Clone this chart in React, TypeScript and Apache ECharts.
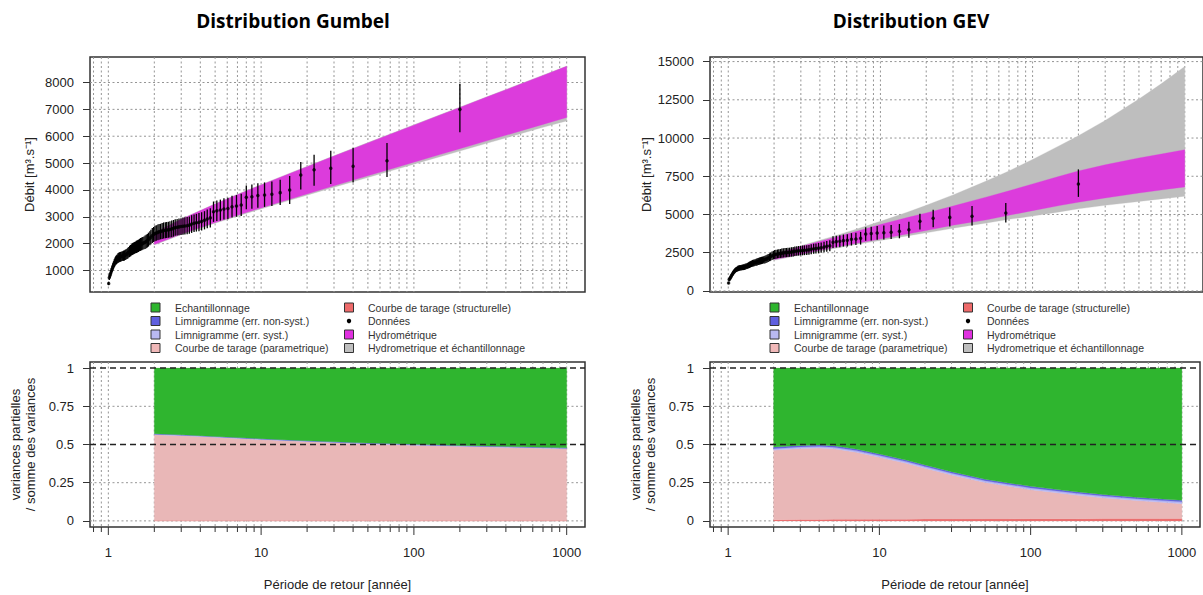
import React, { useEffect, useRef } from "react";
import * as echarts from "echarts";

// ---------- DATA ----------
// empirical return periods of the observed annual maxima [years]
const RETURN_PERIODS = [
  200, 66.67, 40, 28.57, 22.22, 18.18, 15.38, 13.33, 11.76, 10.53,
  9.52, 8.7, 8, 7.41, 6.9, 6.45, 6.06, 5.71, 5.41, 5.13,
  4.88, 4.65, 4.44, 4.26, 4.08, 3.92, 3.77, 3.64, 3.51, 3.39,
  3.28, 3.17, 3.08, 2.99, 2.9, 2.82, 2.74, 2.67, 2.6, 2.53,
  2.47, 2.41, 2.36, 2.3, 2.25, 2.2, 2.15, 2.11, 2.06, 2.02,
  1.98, 1.94, 1.9, 1.87, 1.83, 1.8, 1.77, 1.74, 1.71, 1.68,
  1.653, 1.626, 1.6, 1.575, 1.55, 1.527, 1.504, 1.481, 1.46, 1.439,
  1.418, 1.399, 1.379, 1.361, 1.342, 1.325, 1.307, 1.29, 1.274, 1.258,
  1.242, 1.227, 1.212, 1.198, 1.183, 1.17, 1.156, 1.143, 1.13, 1.117,
  1.105, 1.093, 1.081, 1.07, 1.058, 1.047, 1.036, 1.026, 1.015, 1.005,
];
// observed discharge [m3/s]
const DEBIT = [
  7000, 5090, 4880, 4810, 4750, 4560, 4000, 3900, 3840, 3810,
  3790, 3750, 3725, 3440, 3400, 3375, 3310, 3290, 3250, 3225,
  3190, 2960, 2920, 2870, 2830, 2800, 2780, 2760, 2730, 2690,
  2670, 2660, 2650, 2635, 2625, 2610, 2600, 2570, 2550, 2530,
  2520, 2510, 2500, 2490, 2470, 2450, 2440, 2420, 2400, 2380,
  2340, 2300, 2250, 2200, 2150, 2110, 2080, 2050, 2030, 2010,
  1990, 1970, 1950, 1920, 1900, 1880, 1860, 1840, 1820, 1800,
  1770, 1740, 1710, 1680, 1650, 1620, 1600, 1580, 1560, 1550,
  1540, 1530, 1520, 1510, 1500, 1480, 1460, 1430, 1400, 1370,
  1320, 1270, 1200, 1130, 1060, 980, 900, 820, 740, 520,
];
const DEBIT_LOW = [
  6150, 4480, 4280, 4220, 4160, 4020, 3480, 3440, 3400, 3370,
  3340, 3300, 3280, 3030, 3000, 2970, 2910, 2900, 2860, 2840,
  2810, 2600, 2570, 2530, 2490, 2460, 2450, 2430, 2400, 2370,
  2350, 2340, 2330, 2320, 2310, 2300, 2290, 2260, 2240, 2230,
  2220, 2210, 2200, 2190, 2170, 2160, 2150, 2130, 2110, 2090,
  2060, 2020, 1980, 1940, 1890, 1860, 1830, 1800, 1790, 1770,
  1750, 1730, 1720, 1690, 1670, 1650, 1640, 1620, 1600, 1580,
  1560, 1530, 1500, 1480, 1450, 1430, 1410, 1390, 1370, 1360,
  1360, 1350, 1340, 1330, 1320, 1300, 1280, 1260, 1230, 1210,
  1160, 1120, 1060, 990, 930, 860, 790, 720, 650, 460,
];
const DEBIT_HIGH = [
  7950, 5750, 5560, 5460, 5310, 5040, 4520, 4380, 4310, 4280,
  4250, 4200, 4170, 3860, 3810, 3780, 3710, 3690, 3640, 3610,
  3570, 3320, 3270, 3210, 3170, 3140, 3110, 3090, 3060, 3010,
  2990, 2980, 2970, 2950, 2940, 2920, 2910, 2880, 2860, 2830,
  2820, 2810, 2800, 2790, 2770, 2740, 2730, 2710, 2690, 2670,
  2620, 2580, 2520, 2460, 2410, 2360, 2330, 2300, 2270, 2250,
  2230, 2210, 2180, 2150, 2130, 2110, 2080, 2060, 2040, 2020,
  1980, 1950, 1920, 1880, 1850, 1810, 1790, 1770, 1750, 1740,
  1720, 1710, 1700, 1690, 1680, 1660, 1640, 1600, 1570, 1530,
  1480, 1420, 1340, 1270, 1190, 1100, 1010, 920, 830, 580,
];

// quantile uncertainty bands
const BAND_T = [2, 3, 5, 7, 10, 15, 20, 30, 50, 70, 100, 150, 200, 300, 500, 700, 1000];
const GUMBEL_HYDRO_LOW = [1970, 2358, 2789, 3057, 3332, 3638, 3852, 4152, 4526, 4771, 5031, 5325, 5534, 5828, 6197, 6441, 6699];
const GUMBEL_HYDRO_HIGH = [2400, 2908, 3474, 3825, 4186, 4587, 4868, 5261, 5752, 6073, 6413, 6800, 7073, 7458, 7943, 8263, 8601];
const GUMBEL_TOTAL_LOW = [1950, 2335, 2760, 3025, 3295, 3595, 3805, 4100, 4465, 4705, 4960, 5245, 5450, 5735, 6095, 6330, 6570];
const GUMBEL_TOTAL_HIGH = [2410, 2918, 3484, 3835, 4196, 4597, 4878, 5271, 5762, 6083, 6423, 6810, 7083, 7468, 7953, 8273, 8611];
const GEV_HYDRO_LOW = [2050, 2400, 2850, 3120, 3400, 3720, 3950, 4300, 4650, 4950, 5250, 5580, 5800, 6080, 6400, 6600, 6800];
const GEV_HYDRO_HIGH = [2400, 2900, 3500, 3900, 4350, 4800, 5100, 5550, 6150, 6550, 7000, 7500, 7850, 8250, 8700, 8950, 9240];
const GEV_TOTAL_LOW = [2000, 2350, 2780, 3050, 3300, 3600, 3800, 4100, 4450, 4680, 4900, 5170, 5370, 5600, 5850, 6020, 6200];
const GEV_TOTAL_HIGH = [2450, 2950, 3600, 4050, 4550, 5150, 5600, 6280, 7200, 7850, 8600, 9500, 10150, 11150, 12550, 13550, 14680];

// partial variances / sum of variances
const VAR_T = [2, 3, 4, 5, 7, 10, 15, 20, 30, 50, 70, 100, 200, 300, 500, 700, 1000];
const GUMBEL_STRUCT = [0.002, 0.002, 0.002, 0.002, 0.002, 0.002, 0.002, 0.002, 0.002, 0.002, 0.002, 0.002, 0.002, 0.002, 0.002, 0.002, 0.002];
const GUMBEL_PARAM = [0.562, 0.556, 0.55, 0.545, 0.538, 0.53, 0.522, 0.517, 0.51, 0.502, 0.498, 0.493, 0.486, 0.482, 0.477, 0.474, 0.47];
const GUMBEL_SYST = [0.003, 0.003, 0.003, 0.003, 0.003, 0.003, 0.003, 0.003, 0.003, 0.003, 0.003, 0.003, 0.003, 0.003, 0.003, 0.003, 0.003];
const GUMBEL_NONSYST = [0.003, 0.003, 0.003, 0.003, 0.003, 0.003, 0.003, 0.003, 0.003, 0.003, 0.003, 0.003, 0.003, 0.003, 0.003, 0.003, 0.003];
const GUMBEL_ECH = [0.43, 0.436, 0.442, 0.447, 0.454, 0.462, 0.47, 0.475, 0.482, 0.49, 0.494, 0.499, 0.506, 0.51, 0.515, 0.518, 0.522];
const GEV_STRUCT = [0.008, 0.009, 0.009, 0.01, 0.01, 0.011, 0.011, 0.012, 0.012, 0.013, 0.013, 0.014, 0.014, 0.015, 0.015, 0.015, 0.016];
const GEV_PARAM = [0.455, 0.465, 0.468, 0.462, 0.44, 0.406, 0.366, 0.333, 0.289, 0.239, 0.216, 0.19, 0.155, 0.136, 0.118, 0.108, 0.097];
const GEV_SYST = [0.01, 0.01, 0.01, 0.01, 0.01, 0.011, 0.011, 0.011, 0.011, 0.011, 0.011, 0.012, 0.012, 0.012, 0.012, 0.012, 0.012];
const GEV_NONSYST = [0.01, 0.01, 0.01, 0.01, 0.01, 0.01, 0.01, 0.01, 0.01, 0.01, 0.01, 0.01, 0.01, 0.01, 0.01, 0.01, 0.01];
const GEV_ECH = [0.517, 0.506, 0.503, 0.508, 0.53, 0.562, 0.602, 0.634, 0.678, 0.727, 0.75, 0.774, 0.809, 0.827, 0.845, 0.855, 0.865];

// axes
const X_GRID = [0.8, 0.9, 1, 2, 3, 4, 5, 6, 7, 8, 9, 10, 20, 30, 40, 50, 60, 70, 80, 90, 100, 200, 300, 400, 500, 600, 700, 800, 900, 1000];
const X_MAJOR = [1, 10, 100, 1000];
const Y_TICKS_GUMBEL = [1000, 2000, 3000, 4000, 5000, 6000, 7000, 8000];
const Y_TICKS_GEV = [0, 2500, 5000, 7500, 10000, 12500, 15000];
const Y_TICKS_VAR = [0, 0.25, 0.5, 0.75, 1];
const Y_DOTTED_VAR = [0, 0.25, 0.75];
const Y_DASHED_VAR = [0.5, 1];

const LEGEND_LEFT = ["Echantillonnage", "Limnigramme (err. non-syst.)", "Limnigramme (err. syst.)", "Courbe de tarage (parametrique)"];
const LEGEND_RIGHT = ["Courbe de tarage (structurelle)", "Données", "Hydrométrique", "Hydrometrique et échantillonnage"];

// ---------- STYLE ----------
const FONT = '"Liberation Sans", Arial, sans-serif';
const TXT = "#222";
const C_ECH = "#2fb52f";
const C_NONSYST = "#6464e1";
const C_SYST = "#b6b6f1";
const C_PARAM = "#e9b7b7";
const C_STRUCT = "#eb6e6e";
const C_HYDRO = "#dc3cdc";
const C_TOTAL = "#bebebe";
const LEGEND_LEFT_COLORS = ["#2db52d", "#5f5fdf", "#b9b9f2", "#f0b8b8"];
const LEGEND_RIGHT_COLORS = ["#ee6a6a", null, "#e030e0", "#bebebe"];

const X_MIN = 0.7586;
const X_MAX = 1318;
const GRIDS = [
  { left: 90, top: 57, width: 495, height: 235 },
  { left: 710, top: 57, width: 493, height: 235 },
  { left: 90, top: 362, width: 495, height: 165 },
  { left: 710, top: 362, width: 493, height: 165 },
];
const Y_RANGE = [
  [200, 8950],
  [-70, 15300],
  [-0.04, 1.04],
  [-0.04, 1.04],
];

function vGrid(gi: number, withTicks: boolean) {
  const [ymin, ymax] = Y_RANGE[gi];
  return {
    type: "custom",
    xAxisIndex: gi,
    yAxisIndex: gi,
    z: 1,
    silent: true,
    clip: false,
    data: X_GRID.map((t) => [t, ymin]),
    renderItem: (params: any, api: any) => {
      const t = api.value(0);
      const a = api.coord([t, ymax]);
      const b = api.coord([t, ymin]);
      const children: any[] = [
        {
          type: "line",
          shape: { x1: a[0], y1: a[1], x2: b[0], y2: b[1] },
          style: { stroke: "#959595", lineWidth: 1, lineDash: [2, 2.5] },
        },
      ];
      if (withTicks) {
        const len = X_MAJOR.includes(t) ? 8 : 5;
        children.push({
          type: "line",
          shape: { x1: b[0], y1: b[1], x2: b[0], y2: b[1] + len },
          style: { stroke: "#333", lineWidth: 1 },
        });
      }
      return { type: "group", children };
    },
  };
}

function hLines(gi: number, values: number[], style: any, z: number) {
  return {
    type: "custom",
    xAxisIndex: gi,
    yAxisIndex: gi,
    z,
    silent: true,
    clip: false,
    data: values.map((v) => [X_MIN, v]),
    renderItem: (params: any, api: any) => {
      const v = api.value(1);
      const a = api.coord([X_MIN, v]);
      const b = api.coord([X_MAX, v]);
      return { type: "line", shape: { x1: a[0], y1: a[1], x2: b[0], y2: b[1] }, style: { ...style } };
    },
  };
}

// filled area between two curves, drawn through the axes' scales
function area(gi: number, xs: number[], lower: number[], upper: number[], color: string, z: number) {
  return {
    type: "custom",
    xAxisIndex: gi,
    yAxisIndex: gi,
    z,
    silent: true,
    encode: { x: 0, y: [1, 2] },
    data: xs.map((t, i) => [t, lower[i], upper[i]]),
    renderItem: (params: any, api: any) => {
      if (params.dataIndex !== 0) return null;
      const top = xs.map((t, i) => api.coord([t, upper[i]]));
      const bot = xs.map((t, i) => api.coord([t, lower[i]])).reverse();
      return {
        type: "polygon",
        shape: { points: top.concat(bot) },
        style: { fill: color, stroke: color, lineWidth: 0.3 },
      };
    },
  };
}

function observations(gi: number) {
  return [
    {
      type: "custom",
      xAxisIndex: gi,
      yAxisIndex: gi,
      z: 4,
      silent: true,
      encode: { x: 0, y: [1, 2] },
      data: RETURN_PERIODS.map((t, i) => [t, DEBIT_LOW[i], DEBIT_HIGH[i]]),
      renderItem: (params: any, api: any) => {
        const t = api.value(0);
        const a = api.coord([t, api.value(1)]);
        const b = api.coord([t, api.value(2)]);
        return {
          type: "line",
          shape: { x1: a[0], y1: a[1], x2: b[0], y2: b[1] },
          style: { stroke: "#000", lineWidth: 1.3 },
        };
      },
    },
    {
      type: "scatter",
      xAxisIndex: gi,
      yAxisIndex: gi,
      z: 5,
      silent: true,
      symbol: "circle",
      symbolSize: 3.5,
      itemStyle: { color: "#000" },
      data: RETURN_PERIODS.map((t, i) => [t, DEBIT[i]]),
    },
  ];
}

function variances(gi: number, layers: number[][]) {
  const colors = [C_STRUCT, C_PARAM, C_SYST, C_NONSYST, C_ECH];
  let base = VAR_T.map(() => 0);
  const out: any[] = [];
  layers.forEach((vals, k) => {
    const top = base.map((b, i) => b + vals[i]);
    out.push(area(gi, VAR_T, base, top, colors[k], 2 + k * 0.01));
    base = top;
  });
  return out;
}

function legend(dx: number) {
  const rows = [307.5, 321, 334.5, 348];
  const els: any[] = [];
  const text = (x: number, y: number, s: string) => ({
    type: "text",
    x,
    y,
    silent: true,
    style: { text: s, fill: "#333", font: `10.5px ${FONT}`, textAlign: "left", textVerticalAlign: "middle" },
  });
  const box = (cx: number, cy: number, color: string) => ({
    type: "rect",
    silent: true,
    shape: { x: cx - 4.5, y: cy - 4.5, width: 9, height: 9 },
    style: { fill: color, stroke: "#333", lineWidth: 1 },
  });
  rows.forEach((y, i) => {
    els.push(box(155.5 + dx, y, LEGEND_LEFT_COLORS[i]));
    els.push(text(175 + dx, y, LEGEND_LEFT[i]));
    const c = LEGEND_RIGHT_COLORS[i];
    if (c) els.push(box(349 + dx, y, c));
    else els.push({ type: "circle", silent: true, shape: { cx: 349 + dx, cy: y, r: 2.2 }, style: { fill: "#000" } });
    els.push(text(368 + dx, y, LEGEND_RIGHT[i]));
  });
  return els;
}

function buildOption() {
  const xAxis = GRIDS.map((g, i) => ({
    type: "log",
    logBase: 10,
    gridIndex: i,
    min: X_MIN,
    max: X_MAX,
    axisLine: { show: false },
    axisTick: { show: false },
    splitLine: { show: false },
    minorTick: { show: false },
    axisLabel:
      i >= 2
        ? {
            show: true,
            margin: 19,
            color: TXT,
            fontSize: 13,
            fontFamily: FONT,
            formatter: (v: number) => {
              const l = Math.log10(v);
              return Math.abs(l - Math.round(l)) < 1e-6 ? String(Math.round(v)) : "";
            },
          }
        : { show: false },
    name: i >= 2 ? "Période de retour [année]" : "",
    nameLocation: "middle",
    nameGap: 51,
    nameTextStyle: { color: TXT, fontSize: 13, fontFamily: FONT },
  }));

  const yTicks = [Y_TICKS_GUMBEL, Y_TICKS_GEV, Y_TICKS_VAR, Y_TICKS_VAR];
  const yAxis = GRIDS.map((g, i) => ({
    type: "value",
    gridIndex: i,
    min: Y_RANGE[i][0],
    max: Y_RANGE[i][1],
    axisLine: { show: false },
    splitLine: { show: false },
    axisTick: { show: true, length: 7, customValues: yTicks[i], lineStyle: { color: "#333", width: 1 } },
    axisLabel: {
      customValues: yTicks[i],
      margin: 16,
      color: TXT,
      fontSize: 13,
      fontFamily: FONT,
      formatter: (v: number) => String(v),
    },
    name: i < 2 ? "Débit [m³.s⁻¹]" : "variances partielles\n/ somme des variances",
    nameLocation: "middle",
    nameGap: i < 2 ? 53 : 52,
    nameTextStyle: { color: TXT, fontSize: 13, fontFamily: FONT, lineHeight: 15 },
  }));

  const dotted = { stroke: "#959595", lineWidth: 1, lineDash: [2, 2.5] };
  const dashed = { stroke: "#222", lineWidth: 1.5, lineDash: [6, 4] };

  const series: any[] = [
    vGrid(0, false),
    vGrid(1, false),
    vGrid(2, true),
    vGrid(3, true),
    hLines(0, Y_TICKS_GUMBEL, dotted, 1),
    hLines(1, Y_TICKS_GEV, dotted, 1),
    hLines(2, Y_DOTTED_VAR, dotted, 1),
    hLines(3, Y_DOTTED_VAR, dotted, 1),
    area(0, BAND_T, GUMBEL_TOTAL_LOW, GUMBEL_TOTAL_HIGH, C_TOTAL, 2),
    area(0, BAND_T, GUMBEL_HYDRO_LOW, GUMBEL_HYDRO_HIGH, C_HYDRO, 3),
    area(1, BAND_T, GEV_TOTAL_LOW, GEV_TOTAL_HIGH, C_TOTAL, 2),
    area(1, BAND_T, GEV_HYDRO_LOW, GEV_HYDRO_HIGH, C_HYDRO, 3),
    ...observations(0),
    ...observations(1),
    ...variances(2, [GUMBEL_STRUCT, GUMBEL_PARAM, GUMBEL_SYST, GUMBEL_NONSYST, GUMBEL_ECH]),
    ...variances(3, [GEV_STRUCT, GEV_PARAM, GEV_SYST, GEV_NONSYST, GEV_ECH]),
    hLines(2, Y_DASHED_VAR, dashed, 10),
    hLines(3, Y_DASHED_VAR, dashed, 10),
  ];

  const titles = [
    { x: 293, text: "Distribution Gumbel" },
    { x: 911, text: "Distribution GEV" },
  ].map((t) => ({
    type: "text",
    x: t.x,
    y: 21,
    silent: true,
    style: {
      text: t.text,
      fill: "#000",
      font: `bold 19px "Open Sans", ${FONT}`,
      textAlign: "center",
      textVerticalAlign: "middle",
    },
  }));

  return {
    animation: false,
    backgroundColor: "#fff",
    grid: GRIDS.map((g) => ({ ...g, show: true, borderColor: "#333", borderWidth: 1.5, backgroundColor: "transparent" })),
    xAxis,
    yAxis,
    series,
    graphic: [...titles, ...legend(0), ...legend(619)],
  };
}

export default function App() {
  const ref = useRef<HTMLDivElement>(null);
  useEffect(() => {
    if (!ref.current) return;
    const chart = echarts.init(ref.current, null, { renderer: "svg" });
    chart.setOption(buildOption() as any);
    return () => chart.dispose();
  }, []);
  return (
    <div
      ref={ref}
      style={{ position: "absolute", left: 0, top: 0, width: 1203, height: 595, background: "#fff" }}
    />
  );
}
